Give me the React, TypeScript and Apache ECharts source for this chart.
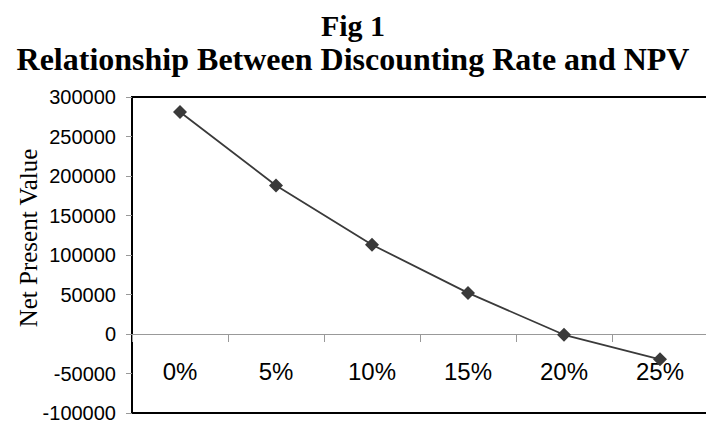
import React, { useEffect, useRef } from "react";
import * as echarts from "echarts";

const categories = ["0%", "5%", "10%", "15%", "20%", "25%"];
const npvValues = [281000, 188000, 113000, 52000, -1000, -32000];
const titleMain = "Fig 1";
const titleSub = "Relationship Between Discounting Rate and NPV";
const yAxisTitle = "Net Present Value";

export default function App() {
  const ref = useRef<HTMLDivElement>(null);
  useEffect(() => {
    if (!ref.current) return;
    const chart = echarts.init(ref.current, null, { renderer: "svg" });
    chart.setOption({
      animation: false,
      backgroundColor: "#fff",
      title: [
        {
          text: titleMain,
          left: "center",
          top: 5,
          textStyle: { fontFamily: "Liberation Serif", fontWeight: "bold", fontSize: 30, color: "#000" },
        },
        {
          text: titleSub,
          left: "center",
          top: 38,
          textStyle: { fontFamily: "Liberation Serif", fontWeight: "bold", fontSize: 32, color: "#000" },
        },
      ],
      graphic: [
        {
          type: "text",
          x: 28,
          y: 238,
          rotation: Math.PI / 2,
          style: {
            text: yAxisTitle,
            fontFamily: "Liberation Serif",
            fontSize: 25,
            fill: "#000",
            align: "center",
            verticalAlign: "middle",
          },
        },
      ],
      grid: {
        left: 132,
        right: -2,
        top: 97,
        bottom: 11,
        outerBoundsMode: "none",
        containLabel: false,
        show: true,
        borderColor: "#000",
        borderWidth: 2,
        backgroundColor: "transparent",
      },
      xAxis: [
        {
          type: "category",
          data: categories,
          boundaryGap: true,
          axisLine: { show: true, onZero: true, lineStyle: { color: "#999", width: 1 } },
          axisTick: { show: true, length: 8, lineStyle: { color: "#999" } },
          axisLabel: { show: false },
          splitLine: { show: false },
        },
        {
          type: "category",
          data: categories,
          boundaryGap: true,
          position: "bottom",
          offset: -54,
          axisLine: { show: false, onZero: false },
          axisTick: { show: false },
          axisLabel: {
            margin: 0,
            fontFamily: "Liberation Sans",
            fontSize: 24,
            color: "#000",
          },
          splitLine: { show: false },
        },
      ],
      yAxis: {
        type: "value",
        min: -100000,
        max: 300000,
        interval: 50000,
        axisLine: { show: false },
        axisTick: { show: true, length: 6, inside: false, lineStyle: { color: "#999" } },
        axisLabel: {
          margin: 16,
          fontFamily: "Liberation Sans",
          fontSize: 20,
          color: "#000",
          formatter: (v: number) => String(v),
        },
        splitLine: { show: false },
      },
      series: [
        {
          type: "line",
          xAxisIndex: 0,
          data: npvValues,
          symbol: "diamond",
          symbolSize: 14,
          itemStyle: { color: "#3a3a3a" },
          lineStyle: { color: "#3a3a3a", width: 1.8 },
        },
      ],
    });
    return () => chart.dispose();
  }, []);
  return (
    <div
      ref={ref}
      style={{ position: "fixed", left: 0, top: 0, width: 706, height: 424 }}
    />
  );
}
